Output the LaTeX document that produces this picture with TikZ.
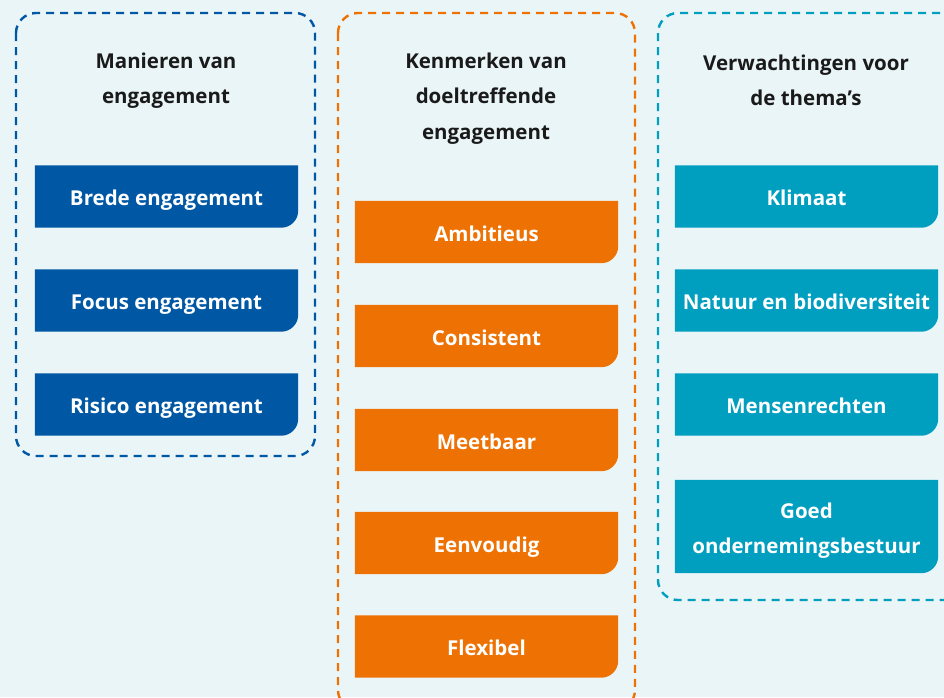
\documentclass[tikz,border=0pt]{standalone}
\usepackage{fontspec}
\setmainfont{Open Sans}
\usetikzlibrary{backgrounds}
\definecolor{bgc}{HTML}{EAF5F8}
\definecolor{cblue}{HTML}{0057A3}
\definecolor{corange}{HTML}{EE7203}
\definecolor{cteal}{HTML}{009EBF}
\definecolor{ctext}{HTML}{1A1A1A}
\newcommand\tabbg[2]{\fill[#2] (#1.north west) -- (#1.north east) -- ([yshift=17pt]#1.south east) arc[start angle=0,end angle=-90,radius=17pt] -- (#1.south west) -- cycle;}
\begin{document}
\begin{tikzpicture}[x=1pt,y=-1pt,
  frame/.style={dash pattern=on 8pt off 6pt, line width=2.4pt, rounded corners=20pt},
  title/.style={font=\fontsize{20.5}{35.5}\selectfont\bfseries, align=center, text=ctext, inner sep=0pt},
  tabbox/.style={font=\fontsize{20.5}{35}\selectfont\bfseries, text=white, align=center, minimum width=263pt, minimum height=62pt, inner sep=0pt, text height=19pt, text depth=0.5pt},
]
\useasboundingbox (0,0) rectangle (944,697);
\begin{pgfonlayer}{background}
\fill[bgc] (0,0) rectangle (944,697);
\begin{scope}
\clip (0,0) rectangle (944,697);
\draw[frame, cblue] (16,13) rectangle (315,456);
\draw[frame, corange] (338,13) rectangle (635,710);
\draw[frame, cteal] (658,13) rectangle (970,600);
\end{scope}
\end{pgfonlayer}

\node[title] (t1) at (166,80.5) {Manieren van\\engagement};
\node[title] (t2) at (486,98.5) {Kenmerken van\\doeltreffende\\engagement};
\node[title] (t3) at (806,80.5) {Verwachtingen voor\\de thema’s};

\node[tabbox] (b1) at (166.5,196.5) {Brede engagement};
\node[tabbox] (b2) at (166.5,300.5) {Focus engagement};
\node[tabbox] (b3) at (166.5,404.5) {Risico engagement};

\node[tabbox] (o1) at (486.5,232) {Ambitieus};
\node[tabbox] (o2) at (486.5,336) {Consistent};
\node[tabbox] (o3) at (486.5,440) {Meetbaar};
\node[tabbox] (o4) at (486.5,543) {Eenvoudig};
\node[tabbox] (o5) at (486.5,646.5) {Flexibel};

\node[tabbox] (c1) at (806.5,196.5) {Klimaat};
\node[tabbox] (c2) at (806.5,300.5) {Natuur en biodiversiteit};
\node[tabbox] (c3) at (806.5,404.5) {Mensenrechten};
\node[tabbox, minimum height=93pt, text height=53.5pt] (c4) at (806.5,526.5) {Goed\\ondernemingsbestuur};

\begin{pgfonlayer}{background}
\foreach \n in {b1,b2,b3} {\tabbg{\n}{cblue}}
\foreach \n in {o1,o2,o3,o4,o5} {\tabbg{\n}{corange}}
\foreach \n in {c1,c2,c3,c4} {\tabbg{\n}{cteal}}
\end{pgfonlayer}
\end{tikzpicture}
\end{document}
